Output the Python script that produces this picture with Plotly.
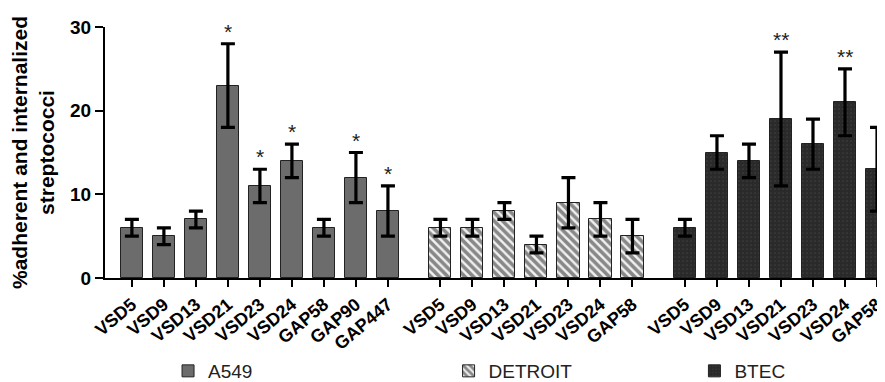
import plotly.graph_objects as go

# ---- data ----
a549_labels = ["VSD5", "VSD9", "VSD13", "VSD21", "VSD23", "VSD24", "GAP58", "GAP90", "GAP447"]
a549_values = [6, 5, 7, 23, 11, 14, 6, 12, 8]
a549_errors = [1, 1, 1, 5, 2, 2, 1, 3, 3]
a549_signif = ["", "", "", "*", "*", "*", "", "*", "*"]

detroit_labels = ["VSD5", "VSD9", "VSD13", "VSD21", "VSD23", "VSD24", "GAP58"]
detroit_values = [6, 6, 8, 4, 9, 7, 5]
detroit_errors = [1, 1, 1, 1, 3, 2, 2]
detroit_signif = ["", "", "", "", "", "", ""]

btec_labels = ["VSD5", "VSD9", "VSD13", "VSD21", "VSD23", "VSD24", "GAP58"]
btec_values = [6, 15, 14, 19, 16, 21, 13]
btec_errors = [1, 2, 2, 8, 3, 4, 5]
btec_signif = ["", "", "", "**", "", "**", ""]

y_ticks = [0, 10, 20, 30]

# ---- layout helpers ----
group_starts = [0, 9.64, 17.28]
FONT = "Liberation Sans, Arial, sans-serif"

groups = [
    dict(name="A549", labels=a549_labels, values=a549_values, errors=a549_errors,
         signif=a549_signif, color="#6c6c6c",
         pattern=dict(shape="")),
    dict(name="DETROIT", labels=detroit_labels, values=detroit_values, errors=detroit_errors,
         signif=detroit_signif, color="#f2f2f2",
         pattern=dict(shape="\\", fgcolor="#1e1e1e", bgcolor="#f2f2f2", size=6, solidity=0.6)),
    dict(name="BTEC", labels=btec_labels, values=btec_values, errors=btec_errors,
         signif=btec_signif, color="#2a2a2a",
         pattern=dict(shape=".", fgcolor="#505050", bgcolor="#2a2a2a", size=4, solidity=0.15)),
]

legend_names = ["legend", "legend2", "legend3"]
legend_x = [0.080, 0.436, 0.748]

fig = go.Figure()
tickvals, ticktext = [], []
annotations = []
for gi, g in enumerate(groups):
    xs = [group_starts[gi] + i for i in range(len(g["values"]))]
    tickvals += xs
    ticktext += g["labels"]
    fig.add_trace(go.Bar(
        x=xs, y=g["values"], name=g["name"], width=0.69,
        marker=dict(color=g["color"], line=dict(color="#222222", width=1),
                    pattern=g["pattern"]),
        error_y=dict(type="data", array=g["errors"], visible=True,
                     color="black", thickness=3.2, width=7),
        legend=legend_names[gi], showlegend=True,
    ))
    for x, v, e, s in zip(xs, g["values"], g["errors"], g["signif"]):
        if s:
            annotations.append(dict(
                x=x, y=v + e, xref="x", yref="y", text=s, showarrow=False,
                yanchor="bottom", yshift=-1,
                font=dict(family=FONT, size=21, color="#222")))

legend_common = dict(orientation="h", yanchor="middle", y=-0.372, xanchor="left",
                     font=dict(family=FONT, size=19, color="#222"),
                     bgcolor="rgba(0,0,0,0)")

fig.update_layout(
    width=885, height=382,
    margin=dict(l=97, r=0, t=19, b=105),
    plot_bgcolor="white", paper_bgcolor="white",
    bargap=0, showlegend=True,
    annotations=annotations,
    legend=dict(x=legend_x[0], **legend_common),
    legend2=dict(x=legend_x[1], **legend_common),
    legend3=dict(x=legend_x[2], **legend_common),
    xaxis=dict(
        range=[-0.84, 23.78], tickvals=tickvals, ticktext=ticktext,
        tickangle=-40, showline=True, linecolor="black", linewidth=2,
        ticks="outside", ticklen=7, tickwidth=2, tickcolor="black",
        showgrid=False, zeroline=False,
        tickfont=dict(family=FONT, size=18, color="black", weight="bold"),
    ),
    yaxis=dict(
        range=[0, 30], tickvals=y_ticks, showline=True, linecolor="black", linewidth=2,
        ticks="outside", ticklen=8, tickwidth=2, tickcolor="black",
        showgrid=False, zeroline=False,
        tickfont=dict(family=FONT, size=19, color="black", weight="bold"),
        title=dict(text="%adherent and internalized<br>streptococci", standoff=10,
                   font=dict(family=FONT, size=21, color="black", weight="bold")),
    ),
)

fig.write_html("out.html")
